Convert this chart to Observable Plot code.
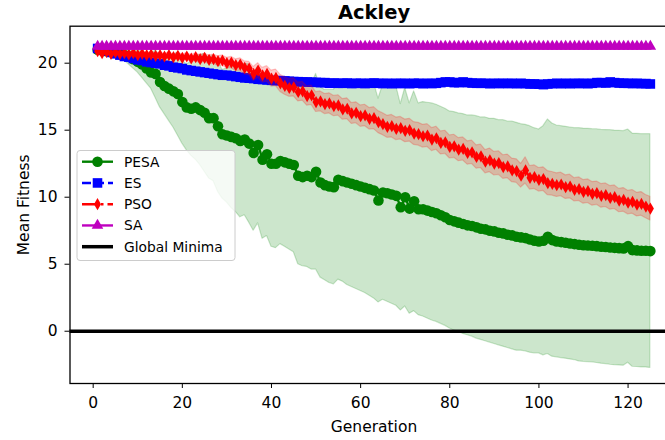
<!DOCTYPE html>
<html><head><meta charset="utf-8">
<script src="https://cdn.jsdelivr.net/npm/d3@7"></script>
<script src="https://cdn.jsdelivr.net/npm/@observablehq/plot@0.6"></script>
<style>
body{margin:0;background:#fff;}
#wrap{position:relative;width:665px;height:440px;overflow:hidden;background:#fff;font-family:"DejaVu Sans",sans-serif;}
#wrap svg{position:absolute;left:0;top:0;max-width:none !important;}
</style></head><body><div id="wrap"></div>
<script>
// ---- data ----
const title = "Ackley";
const xLabel = "Generation";
const yLabel = "Mean Fitness";
const xTicks = [0, 20, 40, 60, 80, 100, 120];
const yTicks = [0, 5, 10, 15, 20];
const seriesNames = ["PESA", "ES", "PSO", "SA"];
const globalMinLabel = "Global Minima";
const globalMin = [0];

const pesaMean = [21.0,20.95,20.9,20.85,20.8,20.7,20.6,20.5,20.3,20.1,
19.9,19.6,19.3,19.2,18.6,18.3,18.1,17.9,17.7,17.1,
16.7,16.6,16.7,16.5,16.3,15.9,15.9,15.3,14.7,14.6,
14.5,14.4,14.2,14.3,14.0,13.3,13.9,12.8,13.2,12.5,
12.5,12.7,12.6,12.5,12.4,11.6,11.5,11.6,11.5,11.9,
11.1,10.9,10.8,10.75,11.3,11.2,11.1,11.0,10.9,10.8,
10.7,10.6,10.5,9.75,10.35,10.3,10.2,10.1,9.25,10.0,
9.15,9.7,9.1,9.1,9.0,8.9,8.8,8.65,8.5,8.3,
8.2,8.1,8.0,7.9,7.85,7.75,7.65,7.6,7.5,7.45,
7.35,7.3,7.2,7.15,7.05,7.0,6.95,6.85,6.75,6.7,
6.75,7.05,6.8,6.7,6.65,6.6,6.55,6.5,6.45,6.42,
6.4,6.38,6.35,6.3,6.28,6.25,6.22,6.2,6.18,6.35,
6.05,6.03,6.0,6.0,5.98];
const pesaStd = [0.1,0.1,0.1,0.15,0.2,0.3,0.4,0.6,0.7,0.8,
1.0,1.1,1.2,1.8,1.9,2.1,2.4,2.7,3.1,3.1,
3.2,3.5,3.9,4.1,4.4,4.5,4.7,4.9,4.8,5.0,
5.3,5.5,5.7,5.65,5.9,5.8,5.85,5.9,6.1,6.2,
6.3,6.2,6.3,6.4,6.5,6.6,6.65,6.8,6.9,7.3,
7.1,7.1,7.2,7.25,7.45,7.5,7.65,7.7,7.75,7.8,
7.85,7.95,8.05,7.6,8.0,8.1,8.15,8.2,7.7,8.15,
7.85,8.2,7.9,8.0,8.05,8.1,8.1,8.1,8.1,8.1,
8.15,8.15,8.2,8.2,8.25,8.3,8.3,8.35,8.35,8.4,
8.4,8.45,8.45,8.5,8.5,8.45,8.45,8.45,8.4,8.35,
8.55,8.75,8.7,8.65,8.65,8.65,8.65,8.65,8.7,8.7,
8.7,8.7,8.72,8.72,8.73,8.75,8.75,8.75,8.75,8.7,
8.7,8.7,8.7,8.7,8.72];

const esMean = [21.1,21.0,20.9,20.8,20.7,20.6,20.5,20.45,20.35,20.25,
20.2,20.1,20.05,20.0,19.95,19.85,19.8,19.7,19.65,19.6,
19.5,19.45,19.4,19.35,19.3,19.25,19.2,19.15,19.1,19.1,
19.05,19.0,18.95,18.9,18.88,18.85,18.8,18.78,18.75,18.72,
18.7,18.7,18.68,18.65,18.63,18.62,18.6,18.6,18.58,18.57,
18.55,18.55,18.5,18.52,18.5,18.5,18.52,18.48,18.5,18.5,
18.48,18.5,18.52,18.5,18.48,18.5,18.47,18.5,18.48,18.5,
18.47,18.5,18.5,18.47,18.5,18.48,18.5,18.55,18.6,18.6,
18.55,18.55,18.6,18.55,18.52,18.5,18.5,18.5,18.47,18.5,
18.48,18.5,18.48,18.5,18.47,18.5,18.47,18.45,18.45,18.43,
18.4,18.45,18.47,18.5,18.47,18.5,18.47,18.5,18.48,18.5,
18.47,18.5,18.55,18.55,18.52,18.6,18.55,18.52,18.5,18.5,
18.48,18.5,18.47,18.48,18.45];
const esStd = [0.05,0.05,0.06,0.07,0.08,0.09,0.1,0.1,0.11,0.12,
0.12,0.13,0.13,0.14,0.14,0.15,0.15,0.15,0.16,0.16,
0.16,0.17,0.17,0.17,0.18,0.18,0.18,0.18,0.19,0.19,
0.19,0.2,0.2,0.2,0.2,0.2,0.2,0.2,0.2,0.2,
0.2,0.2,0.2,0.2,0.2,0.2,0.2,0.2,0.2,0.2,
0.2,0.2,0.2,0.2,0.2,0.2,0.2,0.2,0.2,0.2,
0.2,0.2,0.2,0.2,0.2,0.2,0.2,0.2,0.2,0.2,
0.2,0.2,0.2,0.2,0.2,0.2,0.2,0.2,0.2,0.2,
0.2,0.2,0.2,0.2,0.2,0.2,0.2,0.2,0.2,0.2,
0.2,0.2,0.2,0.2,0.2,0.2,0.2,0.2,0.2,0.2,
0.2,0.2,0.2,0.2,0.2,0.2,0.2,0.2,0.2,0.2,
0.2,0.2,0.2,0.2,0.2,0.2,0.2,0.2,0.2,0.2,
0.2,0.2,0.2,0.2,0.2];

const psoMean = [20.9,20.75,20.85,20.7,20.8,20.7,20.75,20.65,20.75,20.6,
20.7,20.6,20.65,20.55,20.6,20.5,20.6,20.45,20.55,20.4,
20.5,20.35,20.45,20.3,20.4,20.25,20.3,20.15,20.2,20.0,
20.05,19.85,19.9,19.65,19.6,19.2,19.45,19.1,19.2,18.85,
18.9,18.5,18.3,18.15,18.2,17.85,17.9,17.55,17.6,17.1,
17.15,16.95,17.0,16.8,16.85,16.55,16.6,16.25,16.3,16.05,
16.1,15.85,15.9,15.6,15.45,15.25,15.3,15.1,15.15,14.95,
15.0,14.75,14.7,14.55,14.6,14.3,14.4,14.05,14.1,13.75,
13.8,13.55,13.6,13.3,13.35,13.0,13.05,12.65,12.75,12.5,
12.55,12.25,12.3,12.0,11.95,11.6,12.0,11.45,11.5,11.3,
11.35,11.05,11.0,10.9,10.95,10.75,10.8,10.55,10.6,10.4,
10.45,10.25,10.3,10.1,10.15,9.95,10.0,9.75,9.8,9.6,
9.65,9.45,9.5,9.3,9.15];
const psoStd = [0.1,0.1,0.1,0.12,0.12,0.12,0.13,0.13,0.14,0.15,
0.15,0.16,0.17,0.18,0.18,0.2,0.2,0.22,0.22,0.24,
0.25,0.26,0.28,0.3,0.3,0.32,0.34,0.36,0.38,0.4,
0.42,0.44,0.46,0.48,0.5,0.52,0.55,0.55,0.58,0.6,
0.62,0.64,0.65,0.66,0.68,0.7,0.7,0.72,0.72,0.74,
0.74,0.75,0.75,0.76,0.76,0.77,0.78,0.78,0.78,0.8,
0.8,0.8,0.82,0.82,0.82,0.82,0.84,0.84,0.84,0.84,
0.85,0.85,0.85,0.85,0.85,0.86,0.86,0.86,0.86,0.86,
0.86,0.86,0.86,0.87,0.87,0.87,0.87,0.87,0.88,0.88,
0.88,0.88,0.88,0.88,0.88,0.88,0.98,0.88,0.88,0.88,
0.88,0.9,0.88,0.88,0.88,0.88,0.88,0.87,0.88,0.88,
0.88,0.88,0.87,0.88,0.88,0.88,0.88,0.87,0.88,0.88,
0.88,0.88,0.88,0.87,0.88];

const saMean = [21.25,21.25,21.25,21.25,21.25,21.25,21.25,21.25,21.25,21.25,
21.25,21.25,21.25,21.25,21.25,21.25,21.25,21.25,21.25,21.25,
21.25,21.25,21.25,21.25,21.25,21.25,21.25,21.25,21.25,21.25,
21.25,21.25,21.25,21.25,21.25,21.25,21.25,21.25,21.25,21.25,
21.25,21.25,21.25,21.25,21.25,21.25,21.25,21.25,21.25,21.25,
21.25,21.25,21.25,21.25,21.25,21.25,21.25,21.25,21.25,21.25,
21.25,21.25,21.25,21.25,21.25,21.25,21.25,21.25,21.25,21.25,
21.25,21.25,21.25,21.25,21.25,21.25,21.25,21.25,21.25,21.25,
21.25,21.25,21.25,21.25,21.25,21.25,21.25,21.25,21.25,21.25,
21.25,21.25,21.25,21.25,21.25,21.25,21.25,21.25,21.25,21.25,
21.25,21.25,21.25,21.25,21.25,21.25,21.25,21.25,21.25,21.25,
21.25,21.25,21.25,21.25,21.25,21.25,21.25,21.25,21.25,21.25,
21.25,21.25,21.25,21.25,21.25];

// ---- styling ----
const colors = {PESA: "green", ES: "#0000ff", PSO: "#ff0000", SA: "#bf00bf"};
const symbols = {PESA: "circle", ES: "square", PSO: "diamond", SA: "triangle"};
const radii = {PESA: 5.3, ES: 5.4, PSO: 3.7, SA: 4.3};
const dashes = {PESA: null, ES: "9,4", PSO: "15,4,2.5,4", SA: null};
const FONT = '"DejaVu Sans", sans-serif';

const gens = d3.range(1, pesaMean.length + 1);
function rows(mean, std) {
  return gens.map((g, i) => ({g, m: mean[i], lo: std ? mean[i] - std[i] : mean[i], hi: std ? mean[i] + std[i] : mean[i]}));
}
const pesa = rows(pesaMean, pesaStd);
const es = rows(esMean, esStd);
const pso = rows(psoMean, psoStd);
const sa = rows(saMean, null);

function band(data, name) {
  return Plot.areaY(data, {x: "g", y1: "lo", y2: "hi", fill: colors[name], fillOpacity: 0.2,
    stroke: colors[name], strokeOpacity: 0.2, strokeWidth: 1.2, curve: "linear"});
}
function line(data, name) {
  return [
    Plot.lineY(data, {x: "g", y: "m", stroke: colors[name], strokeWidth: 2.4,
      strokeDasharray: dashes[name] || undefined}),
    Plot.dot(data, {x: "g", y: "m", symbol: () => symbols[name], r: radii[name], fill: colors[name], stroke: "none"})
  ];
}

const xDomain = [-5.2, 131.2];
const yDomain = [-3.9, 22.76];
const W = 679, H = 440;

const chart = Plot.plot({
  width: W, height: H,
  marginLeft: 69.5, marginRight: 1.5, marginTop: 25.7, marginBottom: 57,
  x: {domain: xDomain},
  y: {domain: yDomain},
  symbol: {type: "identity"},
  style: {fontFamily: FONT, fontSize: "15.5px", color: "black", background: "transparent"},
  marks: [
    band(pesa, "PESA"),
    ...line(pesa, "PESA"),
    band(es, "ES"),
    ...line(es, "ES"),
    band(pso, "PSO"),
    ...line(pso, "PSO"),
    ...line(sa, "SA"),
    Plot.ruleY(globalMin, {stroke: "black", strokeWidth: 3.5}),
    Plot.frame({stroke: "black", strokeWidth: 1.3}),
    Plot.axisX({ticks: xTicks, tickSize: 5, tickPadding: 8, tickFormat: d => String(d),
      label: xLabel, labelAnchor: "center", labelArrow: "none", labelOffset: 48, fontSize: 15.5}),
    Plot.axisY({ticks: yTicks, tickSize: 5, tickPadding: 7.5, tickFormat: d => String(d),
      label: yLabel, labelAnchor: "center", labelArrow: "none", labelOffset: 52, fontSize: 15.5}),
    Plot.text([title], {frameAnchor: "top", lineAnchor: "bottom", dy: -7, fontWeight: "bold", fontSize: 19.5})
  ]
});
chart.style.maxWidth = "none";
chart.style.width = W + "px";
chart.style.height = H + "px";
document.getElementById("wrap").appendChild(chart);

// ---- legend overlay ----
const legendNames = [...seriesNames, globalMinLabel];
const leg = d3.select("#wrap").append("svg").attr("width", 665).attr("height", 440)
  .style("font-family", FONT).style("pointer-events", "none");
leg.append("rect").attr("x", 77).attr("y", 150.5).attr("width", 158).attr("height", 110)
  .attr("rx", 3).attr("fill", "white").attr("fill-opacity", 0.8).attr("stroke", "#cccccc").attr("stroke-width", 1);
legendNames.forEach((name, i) => {
  const y = 161.7 + i * 21.25;
  const isSeries = i < seriesNames.length;
  const col = isSeries ? colors[name] : "black";
  leg.append("line").attr("x1", 82).attr("x2", 113).attr("y1", y).attr("y2", y)
    .attr("stroke", col).attr("stroke-width", isSeries ? 2.4 : 3.5)
    .attr("stroke-dasharray", isSeries && dashes[name] ? dashes[name] : null);
  if (isSeries) {
    const typeMap = {circle: d3.symbolCircle, square: d3.symbolSquare, diamond: d3.symbolDiamond, triangle: d3.symbolTriangle};
    leg.append("path").attr("transform", `translate(97.5,${y})`)
      .attr("d", d3.symbol(typeMap[symbols[name]], Math.PI * radii[name] * radii[name])())
      .attr("fill", col);
  }
  leg.append("text").attr("x", 124).attr("y", y).attr("dy", "0.36em")
    .attr("font-size", 13.8).attr("fill", "#000").text(name);
});
</script></body></html>
